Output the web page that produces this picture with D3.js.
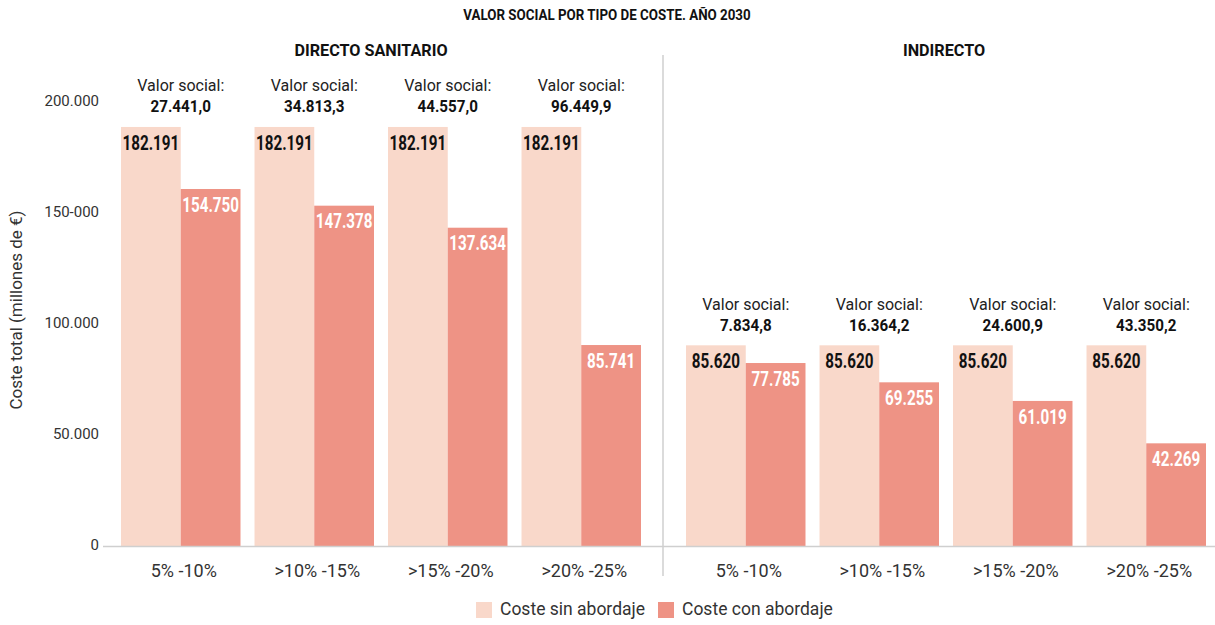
<!DOCTYPE html>
<html>
<head>
<meta charset="utf-8">
<script src="https://cdn.jsdelivr.net/npm/d3@7/dist/d3.min.js"></script>
<style>
  body { margin: 0; background: #fff; }
  svg { display: block; }
</style>
</head>
<body>
<svg id="chart" width="1215" height="625"></svg>
<script>
// ---------- DATA ----------
const title = "VALOR SOCIAL POR TIPO DE COSTE. AÑO 2030";
const panels = ["DIRECTO SANITARIO", "INDIRECTO"];
const categories = ["5% -10%", ">10% -15%", ">15% -20%", ">20% -25%"];
const seriesNames = ["Coste sin abordaje", "Coste con abordaje"];
const sinAbordajeDirecto = [182191, 182191, 182191, 182191];
const conAbordajeDirecto = [154750, 147378, 137634, 85741];
const sinAbordajeIndirecto = [85620, 85620, 85620, 85620];
const conAbordajeIndirecto = [77785, 69255, 61019, 42269];
const valorSocialDirecto = [27441.0, 34813.3, 44557.0, 96449.9];
const valorSocialIndirecto = [7834.8, 16364.2, 24600.9, 43350.2];
const yTickValues = [0, 50000, 100000, 150000, 200000];
const yTickLabels = ["0", "50.000", "100.000", "150-000", "200.000"];
const yAxisTitle = "Coste total (millones de €)";

// ---------- STYLE ----------
const colors = ["#F9D8CA", "#EE9385"];
const labelColors = ["#111", "#fff"];
const font = "Roboto, 'DejaVu Sans', sans-serif";

const es = d3.formatLocale({ decimal: ",", thousands: ".", grouping: [3], currency: ["", "€"] });
const fInt = es.format(",d");
const fDec = es.format(",.1f");

// emulate a condensed face by compressing glyphs horizontally
function condense(sel, factor) {
  sel.each(function () {
    const w = this.getComputedTextLength();
    d3.select(this).attr("textLength", w * factor).attr("lengthAdjust", "spacingAndGlyphs");
  });
}

const svg = d3.select("#chart");

const baseline = 546;
const yAxisScale = d3.scaleLinear().domain([0, 200000]).range([baseline, 102]);
const yBar = d3.scaleLinear().domain([0, 200000]).range([538.9, 86.7]);

const panelData = [
  { name: panels[0], range: [114, 648], sin: sinAbordajeDirecto, con: conAbordajeDirecto, vs: valorSocialDirecto, headerX: 371 },
  { name: panels[1], range: [679, 1213], sin: sinAbordajeIndirecto, con: conAbordajeIndirecto, vs: valorSocialIndirecto, headerX: 944 }
];

// title
svg.append("text")
  .attr("x", 607).attr("y", 16)
  .attr("text-anchor", "middle").attr("dominant-baseline", "middle")
  .attr("font-family", font).attr("font-weight", "bold")
  .attr("font-size", 14.5).attr("fill", "#111")
  .text(title)
  .call(condense, 0.92);

// y axis tick labels
svg.append("g").selectAll("text")
  .data(yTickValues)
  .join("text")
  .attr("x", 99)
  .attr("y", d => yAxisScale(d))
  .attr("text-anchor", "end").attr("dominant-baseline", "middle")
  .attr("font-family", font).attr("font-size", 15).attr("fill", "#333")
  .text((d, i) => yTickLabels[i]);

// y axis title
svg.append("text")
  .attr("transform", "translate(18,310) rotate(-90)")
  .attr("text-anchor", "middle").attr("dominant-baseline", "middle")
  .attr("font-family", font).attr("font-size", 17).attr("fill", "#333")
  .text(yAxisTitle);

// divider
svg.append("line")
  .attr("x1", 663).attr("x2", 663).attr("y1", 55).attr("y2", 576)
  .attr("stroke", "#cfcfcf").attr("stroke-width", 1.5);

panelData.forEach(p => {
  const x0 = d3.scaleBand().domain(categories).range(p.range)
    .paddingInner(0.105).paddingOuter(0.0525);
  const x1 = d3.scaleBand().domain(seriesNames).range([0, x0.bandwidth()]).padding(0);

  svg.append("text")
    .attr("x", p.headerX).attr("y", 52)
    .attr("text-anchor", "middle").attr("dominant-baseline", "middle")
    .attr("font-family", font).attr("font-weight", "bold")
    .attr("font-size", 16.2).attr("fill", "#111")
    .text(p.name);

  const groups = svg.append("g").selectAll("g")
    .data(categories)
    .join("g")
    .attr("transform", d => `translate(${x0(d)},0)`);

  groups.each(function (cat, i) {
    const g = d3.select(this);
    const vals = [p.sin[i], p.con[i]];
    g.selectAll("rect")
      .data(vals)
      .join("rect")
      .attr("x", (d, j) => x1(seriesNames[j]))
      .attr("y", d => yBar(d))
      .attr("width", x1.bandwidth())
      .attr("height", d => baseline - yBar(d))
      .attr("fill", (d, j) => colors[j]);

    g.selectAll("text.val")
      .data(vals)
      .join("text")
      .attr("class", "val")
      .attr("x", (d, j) => x1(seriesNames[j]) + x1.bandwidth() / 2)
      .attr("y", d => yBar(d) + 17.5)
      .attr("text-anchor", "middle").attr("dominant-baseline", "middle")
      .attr("font-family", font).attr("font-weight", "bold")
      .attr("font-size", 20)
      .attr("fill", (d, j) => labelColors[j])
      .text(d => fInt(d))
      .call(condense, 0.76);

    const top = yBar(d3.max(vals));
    const cx = x0.bandwidth() / 2;
    g.append("text")
      .attr("x", cx).attr("y", top - 40)
      .attr("text-anchor", "middle").attr("dominant-baseline", "middle")
      .attr("font-family", font).attr("font-size", 16).attr("fill", "#222")
      .text("Valor social:");
    g.append("text")
      .attr("x", cx).attr("y", top - 19)
      .attr("text-anchor", "middle").attr("dominant-baseline", "middle")
      .attr("font-family", font).attr("font-weight", "bold")
      .attr("font-size", 16.5).attr("fill", "#111")
      .text(fDec(p.vs[i]))
      .call(condense, 0.92);

    g.append("text")
      .attr("x", cx + 3).attr("y", 572)
      .attr("text-anchor", "middle").attr("dominant-baseline", "middle")
      .attr("font-family", font).attr("font-size", 18).attr("fill", "#333")
      .text(cat);
  });
});

// axis baseline
svg.append("line")
  .attr("x1", 103).attr("x2", 1215)
  .attr("y1", baseline + 0.5).attr("y2", baseline + 0.5)
  .attr("stroke", "#cfcfcf").attr("stroke-width", 1.5);

// legend
const legendX = [476, 658];
const legend = svg.append("g").selectAll("g")
  .data(seriesNames)
  .join("g")
  .attr("transform", (d, i) => `translate(${legendX[i]},602)`);
legend.append("rect").attr("width", 16).attr("height", 16).attr("fill", (d, i) => colors[i]);
legend.append("text")
  .attr("x", 24).attr("y", 8.5)
  .attr("dominant-baseline", "middle")
  .attr("font-family", font).attr("font-size", 17.5).attr("fill", "#333")
  .text(d => d);
</script>
</body>
</html>
